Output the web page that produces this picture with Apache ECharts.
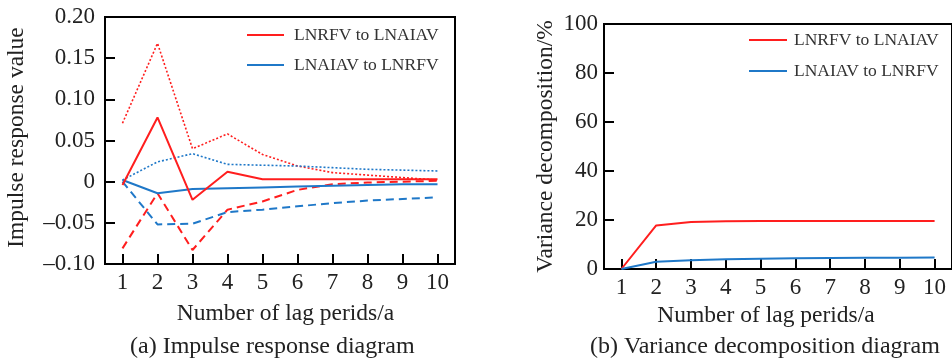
<!DOCTYPE html>
<html>
<head>
<meta charset="utf-8">
<script src="https://cdn.jsdelivr.net/npm/echarts@6/dist/echarts.min.js"></script>
<style>
html,body{margin:0;padding:0;background:#fff;}
#main{width:952px;height:363px;}
</style>
</head>
<body>
<div id="main"></div>
<script>
// ---- data ----
const lags = ['1','2','3','4','5','6','7','8','9','10'];
const leftYTicks = [-0.10, -0.05, 0, 0.05, 0.10, 0.15, 0.20];
const rightYTicks = [0, 20, 40, 60, 80, 100];

const irfRfvToAiav      = [-0.004, 0.078, -0.022, 0.012, 0.003, 0.003, 0.003, 0.003, 0.003, 0.003];
const irfRfvToAiavUpper = [0.071, 0.168, 0.040, 0.058, 0.033, 0.019, 0.011, 0.008, 0.005, 0.002];
const irfRfvToAiavLower = [-0.081, -0.014, -0.083, -0.034, -0.024, -0.010, -0.003, -0.001, 0.000, 0.001];
const irfAiavToRfv      = [0.002, -0.014, -0.009, -0.008, -0.007, -0.006, -0.005, -0.004, -0.003, -0.003];
const irfAiavToRfvUpper = [0.002, 0.024, 0.034, 0.021, 0.020, 0.019, 0.017, 0.015, 0.014, 0.013];
const irfAiavToRfvLower = [0.000, -0.052, -0.051, -0.037, -0.034, -0.030, -0.026, -0.023, -0.021, -0.019];

const vdRfvToAiav = [0, 17.8, 19.2, 19.5, 19.6, 19.6, 19.6, 19.6, 19.6, 19.6];
const vdAiavToRfv = [0, 3.0, 3.6, 4.0, 4.2, 4.4, 4.5, 4.6, 4.6, 4.7];

const nameA = 'LNRFV to LNAIAV';
const nameB = 'LNAIAV to LNRFV';

// ---- styling ----
const RED = '#ff1e1e';
const BLUE = '#1f78c8';
const FONT = '"Liberation Serif", "Times New Roman", serif';
const TXT = '#222';

function fmtLeft(v){
  if (Math.abs(v) < 1e-9) return '0';
  return (v < 0 ? '\u2013' : '') + Math.abs(v).toFixed(2);
}

function xAxisCfg(gridIndex, gap, pad){
  return {
    type: 'category', gridIndex, data: lags, boundaryGap: true,
    name: 'Number of lag perids/a', nameLocation: 'middle', nameGap: gap,
    nameTextStyle: {fontFamily: FONT, fontSize: 23.5, color: TXT, padding: pad},
    axisLine: {show: true, onZero: false, lineStyle: {color: '#000', width: 2}},
    axisTick: {show: true, inside: true, length: 10, alignWithLabel: true, lineStyle: {color: '#000', width: 2}},
    axisLabel: {fontFamily: FONT, fontSize: 23, color: TXT, margin: 7},
    splitLine: {show: false}
  };
}

const chart = echarts.init(document.getElementById('main'), null, {renderer: 'canvas'});

function line(name, data, color, type, width, xi, yi){
  return {
    type: 'line', name, data, xAxisIndex: xi, yAxisIndex: yi,
    symbol: 'none', silent: true,
    lineStyle: {color, type, width},
    itemStyle: {color}
  };
}

const option = {
  animation: false,
  backgroundColor: '#fff',
  grid: [
    {left: 105, top: 17, width: 350, height: 247, show: true, borderColor: '#000', borderWidth: 2, backgroundColor: 'transparent'},
    {left: 604, top: 24, width: 350, height: 245, show: true, borderColor: '#000', borderWidth: 2, backgroundColor: 'transparent'}
  ],
  title: [
    {text: '(a) Impulse response diagram', left: 130, top: 334,  padding: 0,
     textStyle: {fontFamily: FONT, fontSize: 24, fontWeight: 'normal', color: TXT, lineHeight: 26}},
    {text: '(b) Variance decomposition diagram', left: 590, top: 334, padding: 0,
     textStyle: {fontFamily: FONT, fontSize: 24, fontWeight: 'normal', color: TXT, lineHeight: 26}}
  ],
  legend: [
    {data: [nameA, nameB], orient: 'vertical', left: 247, top: 25, padding: 0, itemGap: 10,
     icon: 'rect', itemWidth: 37, itemHeight: 2,
     textStyle: {fontFamily: FONT, fontSize: 17.5, color: '#333', lineHeight: 20, padding: [0,0,0,5]}},
    {data: [nameA + ' ', nameB + ' '], orient: 'vertical', left: 749, top: 30, padding: 0, itemGap: 11,
     icon: 'rect', itemWidth: 38, itemHeight: 2,
     formatter: n => n.trim(),
     textStyle: {fontFamily: FONT, fontSize: 17.5, color: '#333', lineHeight: 20, padding: [0,0,0,2]}}
  ],
  xAxis: [
    xAxisCfg(0, 38, [0, 0, 0, 11]),
    xAxisCfg(1, 33, [0, 24, 0, 0])
  ],
  yAxis: [
    {type: 'value', gridIndex: 0, min: leftYTicks[0], max: leftYTicks[leftYTicks.length-1], interval: 0.05,
     name: 'Impulse response value', nameLocation: 'middle', nameGap: 76,
     nameTextStyle: {fontFamily: FONT, fontSize: 23.5, color: TXT, padding: [0, 0, 0, 6]},
     axisLine: {show: true, lineStyle: {color: '#000', width: 2}},
     axisTick: {show: true, inside: true, length: 10, lineStyle: {color: '#000', width: 2}},
     axisLabel: {fontFamily: FONT, fontSize: 23, color: TXT, margin: 10, formatter: fmtLeft},
     splitLine: {show: false}},
    {type: 'value', gridIndex: 1, min: rightYTicks[0], max: rightYTicks[rightYTicks.length-1], interval: 20,
     name: 'Variance decomposition/%', nameLocation: 'middle', nameGap: 46,
     nameTextStyle: {fontFamily: FONT, fontSize: 23.5, color: TXT},
     axisLine: {show: true, lineStyle: {color: '#000', width: 2}},
     axisTick: {show: true, inside: true, length: 10, lineStyle: {color: '#000', width: 2}},
     axisLabel: {fontFamily: FONT, fontSize: 23, color: TXT, margin: 6},
     splitLine: {show: false}}
  ],
  series: [
    line(nameA + ' upper', irfRfvToAiavUpper, RED, [2, 2], 1.6, 0, 0),
    line(nameA + ' lower', irfRfvToAiavLower, RED, [8, 5], 2, 0, 0),
    line(nameB + ' upper', irfAiavToRfvUpper, BLUE, [2, 2], 1.6, 0, 0),
    line(nameB + ' lower', irfAiavToRfvLower, BLUE, [8, 5], 2, 0, 0),
    line(nameB, irfAiavToRfv, BLUE, 'solid', 2, 0, 0),
    line(nameA, irfRfvToAiav, RED, 'solid', 2, 0, 0),
    line(nameA + ' ', vdRfvToAiav, RED, 'solid', 2, 1, 1),
    line(nameB + ' ', vdAiavToRfv, BLUE, 'solid', 2, 1, 1)
  ]
};
chart.setOption(option);
</script>
</body>
</html>
